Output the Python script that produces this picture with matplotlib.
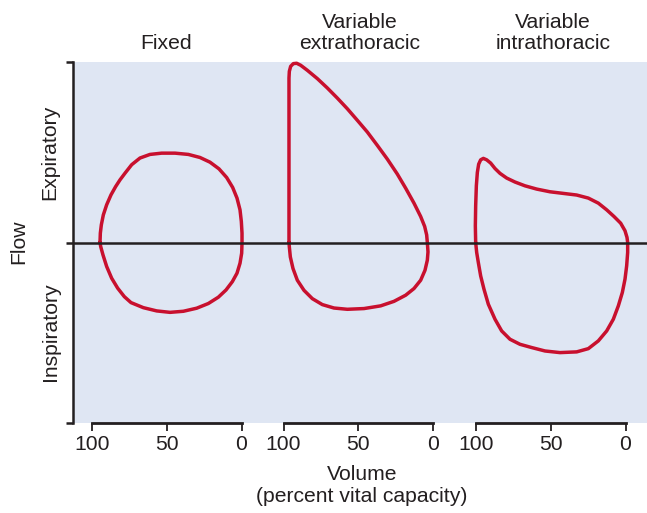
import matplotlib
matplotlib.use("Agg")
import matplotlib.pyplot as plt
import numpy as np

plt.rcParams['font.family'] = ['Liberation Sans', 'DejaVu Sans']

# ---------------- data (volume in % vital capacity, flow in arbitrary units) ----
panel_titles = ["Fixed", "Variable\nextrathoracic", "Variable\nintrathoracic"]
volume_ticks = [100, 50, 0]
volume_tick_labels = ["100", "50", "0"]
flow_label = "Flow"
expiratory_label = "Expiratory"
inspiratory_label = "Inspiratory"
x_label = "Volume\n(percent vital capacity)"

fixed_volume = [94.65, 94.42, 93.75, 92.42, 90.19, 87.29, 84.17, 81.27, 77.92, 73.46,
                67.89, 61.20, 53.40, 44.48, 35.56, 27.76, 21.07, 15.05, 9.92, 5.91,
                3.01, 1.00, 0.11, -0.34, -0.34, -0.12, 1.00, 3.01, 6.13, 10.36, 15.49,
                22.18, 29.98, 38.90, 47.82, 56.74, 65.66, 73.91, 78.37, 82.83, 86.84,
                90.19, 92.64, 94.20]
fixed_flow = [0.0, 0.52, 0.98, 1.53, 2.09, 2.64, 3.10, 3.47, 3.84, 4.31,
              4.68, 4.88, 4.95, 4.95, 4.88, 4.71, 4.45, 4.08, 3.60, 3.05,
              2.46, 1.81, 1.16, 0.52, 0.0, -0.59, -1.15, -1.70, -2.17, -2.63, -3.03,
              -3.38, -3.64, -3.81, -3.87, -3.79, -3.61, -3.33, -3.00, -2.53, -1.98,
              -1.33, -0.69, -0.22]

extra_volume = [96.33, 96.33, 96.33, 96.33, 96.10, 95.21, 93.43, 91.20, 88.52, 84.06,
                77.37, 70.68, 63.99, 57.31, 50.62, 43.93, 37.24, 30.55, 23.86, 18.29,
                12.71, 8.25, 5.58, 4.24, 3.79, 3.35, 3.79, 5.36, 8.25, 12.71, 18.29,
                26.09, 35.01, 46.16, 57.31, 66.23, 74.03, 80.72, 86.29, 90.75, 93.65,
                95.43, 96.10]
extra_flow = [0.0, 4.68, 8.00, 9.11, 9.48, 9.76, 9.91, 9.93, 9.82, 9.54,
              9.08, 8.56, 8.00, 7.41, 6.77, 6.12, 5.38, 4.62, 3.79, 3.01,
              2.18, 1.44, 0.89, 0.42, 0.0, -0.52, -0.98, -1.54, -2.09, -2.55, -2.92,
              -3.26, -3.51, -3.66, -3.70, -3.63, -3.44, -3.11, -2.65, -2.09, -1.44,
              -0.80, -0.24]

intra_volume = [100.22, 100.44, 100.22, 99.77, 99.10, 98.21, 96.88, 95.09, 92.86, 90.19,
                87.29, 83.94, 79.48, 73.91, 67.22, 59.42, 50.50, 41.58, 32.66, 24.86,
                18.17, 12.59, 7.69, 3.23, 0.33, -1.01, -1.45, -1.45, -0.78, 0.33, 2.12,
                4.79, 8.14, 12.59, 18.17, 24.86, 32.66, 43.81, 53.84, 62.76, 70.57,
                77.26, 82.83, 87.29, 91.75, 94.65, 96.88, 98.44, 99.55]
intra_flow = [0.0, 0.92, 2.03, 3.14, 3.88, 4.34, 4.58, 4.66, 4.58, 4.40,
              4.10, 3.83, 3.57, 3.35, 3.14, 2.96, 2.81, 2.72, 2.63, 2.46,
              2.18, 1.81, 1.44, 1.07, 0.65, 0.28, 0.0, -0.55, -1.29, -2.03, -2.77,
              -3.51, -4.25, -4.90, -5.45, -5.88, -6.06, -6.10, -6.01, -5.82, -5.64,
              -5.36, -4.90, -4.25, -3.42, -2.59, -1.85, -1.11, -0.55]

loops = [(fixed_volume, fixed_flow), (extra_volume, extra_flow), (intra_volume, intra_flow)]

# ---------------- styling ----------------
W, H = 647, 513
BG = "#dfe6f3"
DARK = "#231f20"
RED = "#c8102e"
FS = 15.2

fig = plt.figure(figsize=(W / 100, H / 100), dpi=100)

def fx(px):
    return px / W

def fy(py):
    return 1 - py / H

top_px, bot_px = 62, 423
ax_bg = fig.add_axes([fx(73), fy(bot_px), fx(647) - fx(73), fy(top_px) - fy(bot_px)])
ax_bg.set_facecolor(BG)
ax_bg.set_xlim(0, 1)
ax_bg.set_ylim(-10, 10)
for s in ["top", "right", "bottom"]:
    ax_bg.spines[s].set_visible(False)
ax_bg.spines["left"].set_color(DARK)
ax_bg.spines["left"].set_linewidth(1.8)
ax_bg.set_xticks([])
ax_bg.set_yticks([-10, 0, 10])
ax_bg.set_yticklabels([])
ax_bg.tick_params(axis="y", direction="out", length=5, width=1.8, color=DARK)
ax_bg.axhline(0, color=DARK, lw=1.8, zorder=4)

panel_left_px = [92, 283.5, 476]
panel_width_px = 149.5
for i, (vol, flow) in enumerate(loops):
    ax = fig.add_axes([fx(panel_left_px[i]), fy(bot_px), panel_width_px / W,
                       fy(top_px) - fy(bot_px)])
    ax.patch.set_alpha(0)
    ax.set_xlim(100, 0)
    ax.set_ylim(-10, 10)
    for s in ["top", "right", "left"]:
        ax.spines[s].set_visible(False)
    ax.spines["bottom"].set_color(DARK)
    ax.spines["bottom"].set_linewidth(2.0)
    ax.set_yticks([])
    ax.set_xticks(volume_ticks)
    ax.set_xticklabels(volume_tick_labels, fontsize=FS, color=DARK)
    ax.tick_params(axis="x", direction="out", length=5.5, width=1.3, color=DARK, pad=3.5)
    v = np.r_[vol, vol[0]]
    f = np.r_[flow, flow[0]]
    ax_bg.plot(v, f, transform=ax.transData, color=RED, lw=2.5,
               solid_joinstyle="round", solid_capstyle="round", zorder=3, clip_on=False)

# titles
title_x = [166, 360, 553]
for t, x in zip(panel_titles, title_x):
    fig.text(fx(x), fy(53), t, ha="center", va="bottom", fontsize=FS, color=DARK,
             linespacing=1.15)

# y labels
fig.text(fx(50), fy(152), expiratory_label, rotation=90, ha="center", va="center",
         fontsize=FS, color=DARK)
fig.text(fx(50), fy(332), inspiratory_label, rotation=90, ha="center", va="center",
         fontsize=FS, color=DARK)
fig.text(fx(19), fy(242), flow_label, rotation=90, ha="center", va="center",
         fontsize=FS, color=DARK)

# x label
fig.text(fx(362), fy(486), x_label, ha="center", va="center", fontsize=FS, color=DARK,
         linespacing=1.2)

fig.savefig("out.png", dpi=100)
